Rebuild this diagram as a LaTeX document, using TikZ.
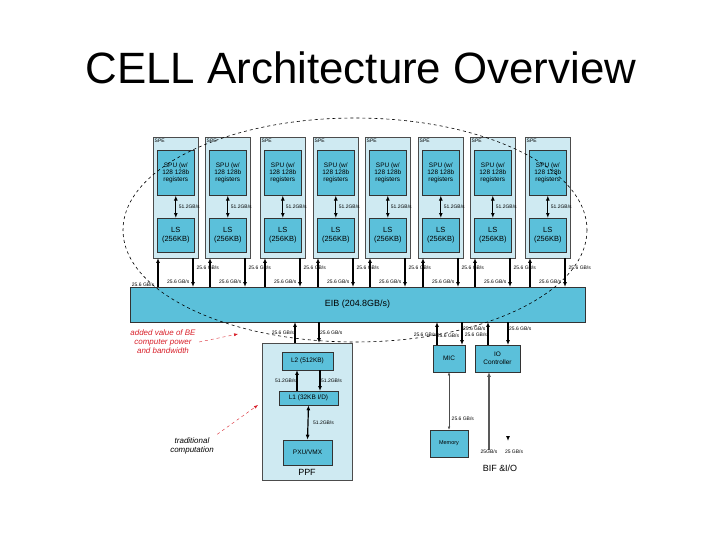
\documentclass[tikz,border=0pt]{standalone}
\usepackage{fontspec}
\setmainfont{Liberation Sans}
\usetikzlibrary{arrows.meta}
\definecolor{dk}{HTML}{5BC0DA}
\definecolor{lt}{HTML}{CFEAF2}
\definecolor{rd}{HTML}{D8202A}
\begin{document}
\begin{tikzpicture}[x=1bp,y=-1bp,
 outer/.style={draw=black!70,fill=lt,line width=0.6pt},
 inner/.style={draw=black!80,fill=dk,line width=0.6pt,align=center,font=\fontsize{6.5}{7.5}\selectfont},
 lab/.style={font=\fontsize{5}{5.5}\selectfont,inner sep=0.5pt},
 arr/.style={-{Latex[length=5pt,width=4pt]},line width=1.2pt},
 darr/.style={{Latex[length=5pt,width=4pt]}-{Latex[length=5pt,width=4pt]},line width=1.2pt}]
\useasboundingbox (0,0) rectangle (720,540);
\node[font=\fontsize{44}{48}\selectfont] (title) at (361,68) {CELL Architecture Overview};
% EIB
\node[inner,minimum width=455bp,minimum height=35bp,font=\fontsize{9}{10}\selectfont] (eib) at (357.5,304.5) {EIB (204.8GB/s)};
% SPEs
\foreach \x [count=\i] in {153,205,260,313,365,418,470,525}{
 \draw[outer] (\x,137) rectangle ++(45,121);
 \node[lab,anchor=north west] (spe\i) at (\x+1,138) {SPE};
 \node[inner,minimum width=37bp,minimum height=45bp,anchor=north west] (spu\i) at (\x+4,150) {SPU (w/\\128 128b\\registers};
 \node[inner,minimum width=37bp,minimum height=34bp,anchor=north west,font=\fontsize{7.5}{8.5}\selectfont] (ls\i) at (\x+4,218) {LS\\(256KB)};
 \draw[darr] (spu\i.south) -- (ls\i.north) node[lab,midway,right=2pt] {51.2GB/s};
 \coordinate (u\i) at (\x+5,287);
 \coordinate (d\i) at (\x+40,287);
 \draw[arr] (u\i) -- (\x+5,258);
 \draw[arr] (\x+40,258) -- (d\i);
 \node[lab,anchor=west] (la\i) at (\x+43,268) {25.6 GB/s};
 \node[lab,anchor=east] (lb\i) at (\x+37,282) {25.6 GB/s};
}
\node[lab] (lc) at (143,285) {25.6 GB/s};
% PPE
\draw[outer] (262,343) rectangle (352,480);
\node[font=\fontsize{9}{10}\selectfont] (ppf) at (307,472) {PPF};
\node[inner,minimum width=51bp,minimum height=18bp] (l2) at (307.5,361) {L2 (512KB)};
\node[inner,minimum width=59bp,minimum height=14bp] (l1) at (308.5,398) {L1 (32KB I/D)};
\node[inner,minimum width=49bp,minimum height=25bp] (pxu) at (307.5,452.5) {PXU/VMX};
\coordinate (p1) at (297,391); \coordinate (p2) at (297,370);
\coordinate (p3) at (320,370); \coordinate (p4) at (320,391);
\draw[arr] (p1) -- (p2) node[lab,midway,left] {51.2GB/s};
\draw[arr] (p3) -- (p4) node[lab,midway,right] {51.2GB/s};
\draw[darr] (l1.south) -- (pxu.north) node[lab,midway,right=4pt] {51.2GB/s};
\draw[arr] (295,343) -- (295,322) node[lab,midway,left] {25.6 GB/s};
\draw[arr] (319,322) -- (319,343) node[lab,midway,right] {25.6 GB/s};
% MIC, IO
\node[inner,minimum width=32bp,minimum height=27bp] (mic) at (449,358.5) {MIC};
\node[inner,minimum width=45bp,minimum height=27bp] (io) at (497.5,358.5) {IO\\Controller};
\node[inner,minimum width=38bp,minimum height=27bp,font=\fontsize{5.5}{6}\selectfont] (mem) at (449,443.5) {Memory};
\draw[arr] (437,345) -- (437,322) node[lab,pos=0.45,left] {25.6 GB/s};
\draw[arr] (462,322) -- (462,345) node[lab,pos=0.3,right] {25.6 GB/s};
\node[lab] (m2) at (448,336) {25.6 GB/s};
\draw[arr] (488,345) -- (488,322) node[lab,pos=0.45,left] {25.6 GB/s};
\draw[arr] (508,322) -- (508,345) node[lab,pos=0.3,right] {25.6 GB/s};
\draw[{Latex[length=3pt,width=2.5pt]}-{Latex[length=3pt,width=2.5pt]},line width=0.5pt,black!70] (mic.south) -- (mem.north) node[lab,pos=0.8,right=2pt,black] {25.6 GB/s};
\coordinate (iob) at (489,450); \coordinate (iot) at (489,372);
\draw[arr,black!65,line width=1.5pt] (iob) -- (iot);
\coordinate (y1) at (508,437); \coordinate (y2) at (508,441);
\draw[arr] (y1) -- (y2);
\node[lab] (b1) at (489,452) {25GB/s};
\node[lab] (b2) at (514,452) {25 GB/s};
\node[font=\fontsize{9}{10}\selectfont] (bif) at (500,468) {BIF \&I/O};
% ellipse
\draw[dashed,line width=0.6pt] (355,230) ellipse [x radius=232,y radius=112];
% red annotations
\node[font=\itshape\fontsize{8}{9}\selectfont,align=center,text=rd] (ann) at (163,342) {added value of BE\\computer power\\and bandwidth};
\node[font=\itshape\fontsize{8}{9}\selectfont,align=center] (trad) at (192,446) {traditional\\computation};
\coordinate (t1) at (238,334);
\coordinate (t2) at (258,405);
\draw[rd,dashed,-{Latex[length=4pt,width=3pt]}] (ann.east) -- (t1);
\draw[rd,dashed,-{Latex[length=4pt,width=3pt]}] (trad.north east) -- (t2);
\end{tikzpicture}
\end{document}
